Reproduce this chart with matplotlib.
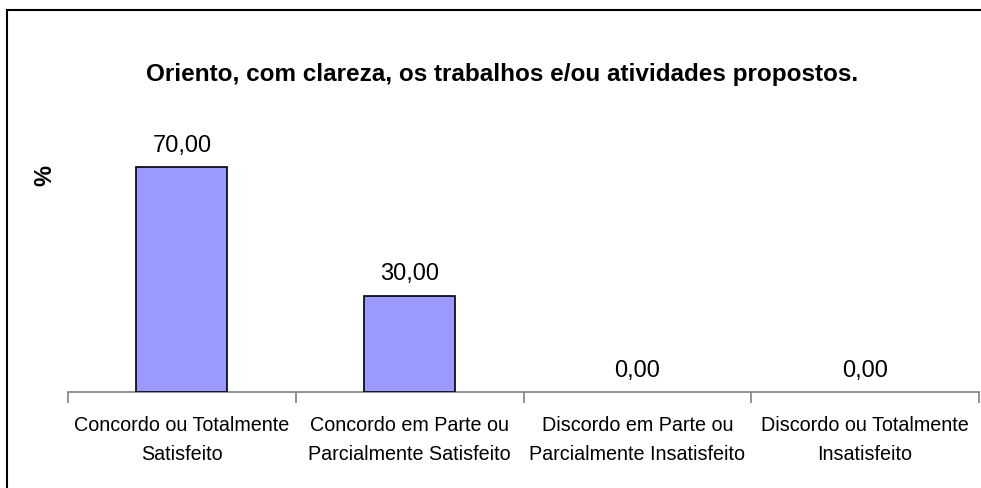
import matplotlib.pyplot as plt
from matplotlib.lines import Line2D

plt.rcParams['font.family'] = ['Liberation Sans', 'DejaVu Sans']

# Respostas e percentuais
categorias = ['Concordo ou Totalmente\nSatisfeito',
              'Concordo em Parte ou\nParcialmente Satisfeito',
              'Discordo em Parte ou\nParcialmente Insatisfeito',
              'Discordo ou Totalmente\nInsatisfeito']
percentuais = [70.0, 30.0, 0.0, 0.0]
titulo = 'Oriento, com clareza, os trabalhos e/ou atividades propostos.'

fig = plt.figure(figsize=(9.81, 4.88), dpi=100)
ax = fig.add_axes([68 / 981, 96 / 488, 911 / 981, 257 / 488])

x = list(range(len(categorias)))
# barras de valor zero ficam sem contorno
bordas = [1.2 if v > 0 else 0 for v in percentuais]
ax.bar(x, percentuais, width=0.4, color='#9999FF', edgecolor='black', linewidth=bordas, zorder=3)

for xi, v in zip(x, percentuais):
    ax.text(xi, v + 3.2, f'{v:.2f}'.replace('.', ','), ha='center', va='bottom',
            fontsize=17, clip_on=False)

ax.set_xlim(-0.5, len(categorias) - 0.5)
ax.set_ylim(0, 80)

# eixo x cinza com marcas entre as categorias
for s in ['top', 'right', 'left']:
    ax.spines[s].set_visible(False)
ax.spines['bottom'].set_color('#808080')
ax.spines['bottom'].set_linewidth(1.2)
ax.set_yticks([])
ax.set_xticks([i - 0.5 for i in range(len(categorias) + 1)])
ax.set_xticklabels([])
ax.set_xticks(x, minor=True)
ax.set_xticklabels(categorias, minor=True, fontsize=14.2, linespacing=1.7)
ax.tick_params(axis='x', which='major', length=8, color='#808080', width=1.2)
ax.tick_params(axis='x', which='minor', length=0, pad=17)

fig.text(502 / 981, 1 - 75 / 488, titulo, ha='center', va='center',
         fontsize=17.5, fontweight='bold')
fig.text(45 / 981, 1 - 175 / 488, '%', ha='center', va='center',
         fontsize=17, fontweight='bold', rotation=90)

# moldura do gráfico
fig.add_artist(Line2D([7 / 981, 1.0], [1 - 10 / 488, 1 - 10 / 488], color='black', linewidth=1.5))
fig.add_artist(Line2D([7 / 981, 7 / 981], [0.0, 1 - 10 / 488], color='black', linewidth=1.5))

fig.savefig('out.png', dpi=100)
